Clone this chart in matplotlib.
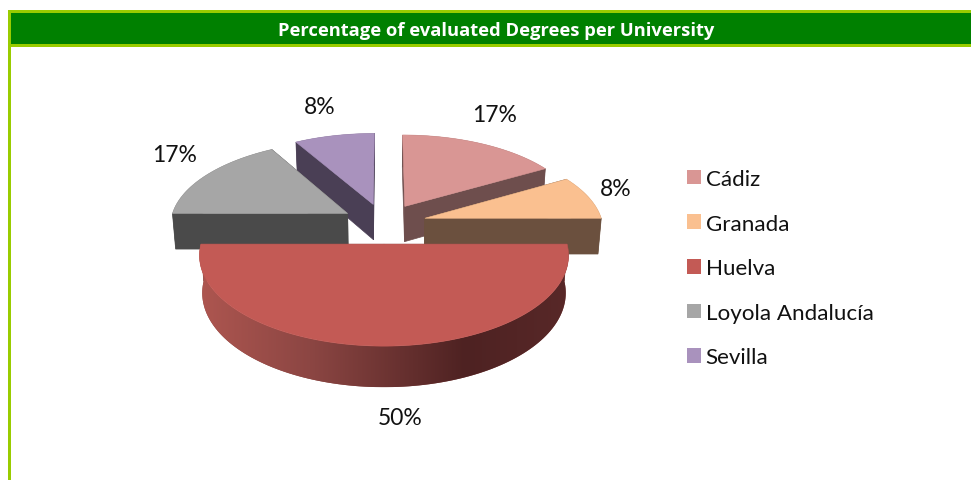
import numpy as np
import matplotlib
matplotlib.use("Agg")
import matplotlib.pyplot as plt
from matplotlib.patches import Polygon, Patch, Rectangle
from matplotlib.colors import LinearSegmentedColormap

title = "Percentage of evaluated Degrees per University"
universities = ["Cádiz", "Granada", "Huelva", "Loyola Andalucía", "Sevilla"]
shares = [16.67, 8.33, 50.0, 16.67, 8.33]
top_colors = ["#D99694", "#FAC090", "#C35A55", "#A6A6A6", "#A992BD"]
side_colors = ["#6E4E4D", "#6B503E", "#8A4A46", "#4A4A4A", "#4A3F55"]
label_xy = [(495, 115), (616, 190), (400, 419), (175, 156), (320, 107)]

# projection of the exploded, tilted pie, in picture pixels
CX, CY, RX, RY, EXPLODE, PERSP, DEPTH, SHRINK = 384, 224.4, 177.7, 84, 0.24, 0.122, 36, 0.985


def project(X, Y):
    s = 1 / (1 + PERSP * Y)
    return CX + RX * X * s, CY - RY * Y * s, s


def bottom(px, py, s):
    return CX + (px - CX) * SHRINK, py + DEPTH * s ** 0.8


fig = plt.figure(figsize=(9.71, 4.81), dpi=100, facecolor="white")
ax = fig.add_axes([0, 0, 1, 1])
ax.axis("off")

# frame and title band
LIME, GREEN = "#99CC00", "#008000"
ax.add_patch(Rectangle((8, 11), 963, 36.5, fc=LIME, ec="none", zorder=1))
ax.add_patch(Rectangle((10, 13.5), 961, 31.5, fc=GREEN, ec="none", zorder=2))
ax.add_patch(Rectangle((8, 11), 2.5, 470, fc=LIME, ec="none", zorder=2))
ax.text(496, 31.5, title, color="white", fontsize=13.2, fontweight="bold",
        family="Open Sans", ha="center", va="center", zorder=3)

ends = np.cumsum(shares) / np.sum(shares) * 2 * np.pi
starts = np.r_[0, ends[:-1]]
mids = (starts + ends) / 2
order = np.argsort(-np.cos(mids), kind="stable")
rim_cmap = LinearSegmentedColormap.from_list(
    "rim", [(0, "#AE5650"), (0.3, "#8C4643"), (0.72, "#4E2222"), (1, "#582828")])

for z, i in enumerate(order):
    ex, ey = EXPLODE * np.sin(mids[i]), EXPLODE * np.cos(mids[i])
    theta = np.linspace(starts[i], ends[i], 120)
    rx, ry, rs = project(ex + np.sin(theta), ey + np.cos(theta))
    ax0, ay0, as0 = project(ex, ey)
    brx, bry = bottom(rx, ry, rs)
    bax, bay = bottom(ax0, ay0, as0)
    zo = 5 + z * 2
    for j in (0, -1):  # the two cut faces
        ax.add_patch(Polygon([(ax0, ay0), (rx[j], ry[j]), (brx[j], bry[j]), (bax, bay)],
                             fc=side_colors[i], ec=side_colors[i], lw=0.5, zorder=zo))
    strip = Polygon(np.r_[np.c_[rx, ry], np.c_[brx, bry][::-1]],
                    fc=side_colors[i], ec="none", zorder=zo)
    ax.add_patch(strip)
    if shares[i] >= 50:
        grad = ax.imshow(np.linspace(0, 1, 256)[None, :], cmap=rim_cmap, aspect="auto",
                         extent=(rx.min(), rx.max(), bry.max(), ry.min()), zorder=zo)
        grad.set_clip_path(strip)
    ax.add_patch(Polygon(np.r_[[(ax0, ay0)], np.c_[rx, ry]],
                         fc=top_colors[i], ec=top_colors[i], lw=0.4, zorder=zo + 1))

for share, (lx, ly) in zip(shares, label_xy):
    ax.text(lx, ly, f"{share:.0f}%", fontsize=16.5, family="Lato", color="#111111",
            ha="center", va="center", zorder=30)

ax.set_xlim(0, 971)
ax.set_ylim(481, 0)

handles = [Patch(fc=c, ec="none") for c in top_colors]
leg = ax.legend(handles, universities, loc="upper left", bbox_to_anchor=(687, 170),
                bbox_transform=ax.transData, frameon=False, borderpad=0, borderaxespad=0,
                prop={"family": "Lato", "size": 16.1}, labelspacing=1.10,
                handlelength=0.63, handleheight=0.63, handletextpad=0.2, labelcolor="#111111")
leg.set_zorder(30)

fig.savefig("out.png", dpi=100, facecolor="white")
